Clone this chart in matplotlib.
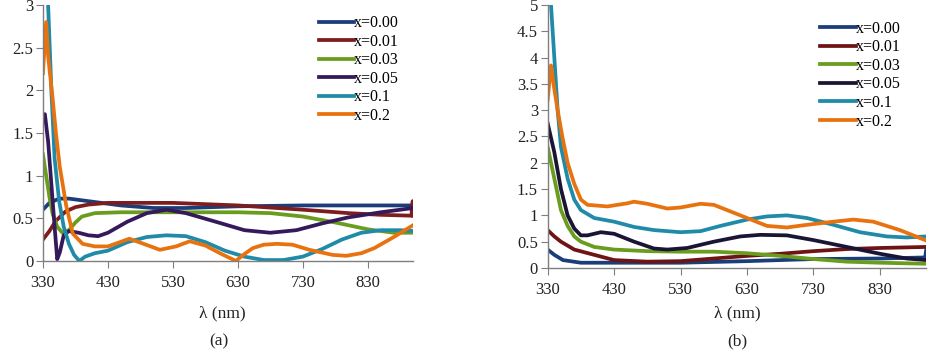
import matplotlib.pyplot as plt

plt.rcParams['font.family'] = ['Liberation Serif', 'DejaVu Serif']

labels = ['x=0.00', 'x=0.01', 'x=0.03', 'x=0.05', 'x=0.1', 'x=0.2']
colors = ['#1b3d7a', '#7d1d1d', '#6a9c1e', '#35195a', '#1f8ba8', '#e8720f']
colors_b = ['#1b3d7a', '#6e1414', '#6a9c1e', '#1a1535', '#1f8ba8', '#e8720f']

# ---- panel (a) ----
wl_a0 = [330, 340, 355, 370, 400, 450, 500, 550, 630, 730, 830, 900]
ab_a0 = [0.60, 0.68, 0.73, 0.73, 0.70, 0.65, 0.62, 0.62, 0.64, 0.65, 0.65, 0.65]

wl_a1 = [330, 340, 350, 365, 380, 400, 430, 530, 630, 730, 800, 850, 897, 899, 900]
ab_a1 = [0.25, 0.35, 0.47, 0.58, 0.63, 0.66, 0.68, 0.68, 0.65, 0.60, 0.56, 0.54, 0.53, 0.70, 0.53]

wl_a2 = [330, 335, 340, 345, 352, 360, 370, 380, 390, 410, 450, 530, 630, 680, 730, 780, 830, 870, 900]
ab_a2 = [1.25, 1.0, 0.75, 0.55, 0.40, 0.33, 0.36, 0.45, 0.52, 0.56, 0.57, 0.57, 0.57, 0.56, 0.52, 0.45, 0.37, 0.33, 0.33]

wl_a3 = [330, 333, 338, 343, 348, 352, 356, 362, 370, 385, 400, 415, 430, 460, 490, 520, 550, 600, 640, 680,
         720, 760, 800, 850, 900]
ab_a3 = [1.70, 1.72, 1.40, 0.90, 0.40, 0.02, 0.10, 0.30, 0.35, 0.33, 0.30, 0.29, 0.33, 0.46, 0.56, 0.60, 0.56,
         0.45, 0.36, 0.33, 0.36, 0.44, 0.51, 0.57, 0.62]

wl_a4 = [337, 338, 343, 348, 355, 362, 370, 378, 386, 395, 410, 430, 460, 490, 520, 550, 580, 610, 640, 670,
         700, 730, 760, 790, 820, 850, 880, 900]
ab_a4 = [3.3, 3.0, 2.0, 1.2, 0.70, 0.40, 0.20, 0.07, 0.0, 0.05, 0.09, 0.12, 0.22, 0.28, 0.30, 0.29, 0.22, 0.12,
         0.05, 0.01, 0.01, 0.05, 0.14, 0.25, 0.33, 0.36, 0.36, 0.35]

wl_a5 = [330, 335, 338, 345, 350, 356, 366, 376, 391, 410, 430, 445, 463, 485, 510, 535, 556, 580, 605, 627,
         640, 653, 670, 690, 714, 740, 776, 797, 820, 840, 870, 900]
ab_a5 = [2.2, 2.8, 2.4, 1.9, 1.5, 1.1, 0.64, 0.32, 0.2, 0.17, 0.17, 0.21, 0.26, 0.20, 0.13, 0.17, 0.23, 0.18,
         0.08, 0.0, 0.08, 0.15, 0.19, 0.20, 0.19, 0.13, 0.07, 0.06, 0.09, 0.15, 0.28, 0.42]

# ---- panel (b) ----
wl_b0 = [330, 340, 353, 380, 430, 530, 630, 730, 830, 898, 900]
ab_b0 = [0.35, 0.25, 0.15, 0.10, 0.10, 0.10, 0.13, 0.17, 0.18, 0.20, 0.38]

wl_b1 = [330, 340, 350, 370, 400, 430, 480, 530, 580, 630, 680, 730, 780, 830, 900]
ab_b1 = [0.72, 0.60, 0.50, 0.35, 0.25, 0.15, 0.12, 0.13, 0.18, 0.23, 0.27, 0.32, 0.36, 0.38, 0.40]

wl_b2 = [330, 340, 350, 360, 370, 380, 400, 430, 480, 530, 580, 630, 680, 730, 780, 830, 900]
ab_b2 = [2.3, 1.7, 1.1, 0.8, 0.6, 0.5, 0.4, 0.35, 0.32, 0.31, 0.31, 0.28, 0.23, 0.17, 0.12, 0.10, 0.08]

wl_b3 = [330, 340, 350, 360, 370, 380, 390, 410, 430, 460, 490, 510, 540, 580, 620, 650, 690, 730, 780, 830,
         870, 900]
ab_b3 = [2.75, 2.2, 1.5, 1.0, 0.75, 0.62, 0.62, 0.68, 0.65, 0.50, 0.37, 0.35, 0.38, 0.50, 0.60, 0.63, 0.62,
         0.53, 0.40, 0.27, 0.18, 0.15]

wl_b4 = [334, 335, 340, 345, 350, 360, 370, 380, 400, 430, 460, 490, 530, 560, 590, 630, 660, 690, 720, 760,
         800, 840, 870, 900]
ab_b4 = [5.2, 5.0, 4.0, 3.0, 2.3, 1.7, 1.3, 1.1, 0.95, 0.88, 0.78, 0.72, 0.68, 0.70, 0.80, 0.92, 0.98, 1.0,
         0.95, 0.82, 0.68, 0.60, 0.58, 0.60]

wl_b5 = [330, 335, 340, 345, 352, 360, 370, 380, 390, 420, 450, 460, 480, 510, 530, 560, 580, 600, 630, 660,
         690, 720, 760, 790, 820, 860, 900]
ab_b5 = [3.2, 3.85, 3.4, 3.0, 2.5, 2.0, 1.6, 1.3, 1.2, 1.17, 1.23, 1.26, 1.22, 1.13, 1.15, 1.22, 1.20, 1.10,
         0.95, 0.80, 0.77, 0.82, 0.88, 0.92, 0.88, 0.72, 0.52]

series_a = [(wl_a0, ab_a0), (wl_a1, ab_a1), (wl_a2, ab_a2), (wl_a3, ab_a3), (wl_a4, ab_a4), (wl_a5, ab_a5)]
series_b = [(wl_b0, ab_b0), (wl_b1, ab_b1), (wl_b2, ab_b2), (wl_b3, ab_b3), (wl_b4, ab_b4), (wl_b5, ab_b5)]

xticks = [330, 430, 530, 630, 730, 830]

fig = plt.figure(figsize=(9.33, 3.54), dpi=100)
ax_a = fig.add_axes([0.046, 0.263, 0.397, 0.723])
ax_b = fig.add_axes([0.587, 0.243, 0.406, 0.743])


def style(ax, ymax, ystep):
    for s in ['top', 'right']:
        ax.spines[s].set_visible(False)
    for s in ['left', 'bottom']:
        ax.spines[s].set_color('#7f7f7f')
        ax.spines[s].set_linewidth(1.0)
    ax.set_xlim(330, 900)
    ax.set_ylim(0, ymax)
    ax.set_xticks(xticks)
    ticks = [i * ystep for i in range(int(round(ymax / ystep)) + 1)]
    ax.set_yticks(ticks)
    ax.set_yticklabels(['%g' % t for t in ticks])
    ax.tick_params(direction='out', length=5, width=0.8, color='#7f7f7f',
                   labelsize=12, pad=2, labelcolor='#222222')
    ax.tick_params(axis='x', pad=5)


for (wl, ab), c, lab in zip(series_a, colors, labels):
    ax_a.plot(wl, ab, color=c, lw=2.7, label=lab, clip_on=True)
for (wl, ab), c, lab in zip(series_b, colors_b, labels):
    ax_b.plot(wl, ab, color=c, lw=2.7, label=lab, clip_on=True)

style(ax_a, 3, 0.5)
style(ax_b, 5, 0.5)

for ax, anchor in [(ax_a, (0.745, 0.96)), (ax_b, (0.72, 0.94))]:
    ax.legend(loc='upper left', bbox_to_anchor=anchor, frameon=False, fontsize=11.5,
              handlelength=2.2, handletextpad=0.0, labelspacing=0.16, borderpad=0,
              borderaxespad=0)

fig.text(0.238, 0.115, 'λ (nm)', ha='center', va='center', fontsize=12.5, color='#222222')
fig.text(0.235, 0.036, '(a)', ha='center', va='center', fontsize=12.5, color='#222222')
fig.text(0.79, 0.115, 'λ (nm)', ha='center', va='center', fontsize=12.5, color='#222222')
fig.text(0.79, 0.036, '(b)', ha='center', va='center', fontsize=12.5, color='#222222')

fig.savefig('out.png', dpi=100)
